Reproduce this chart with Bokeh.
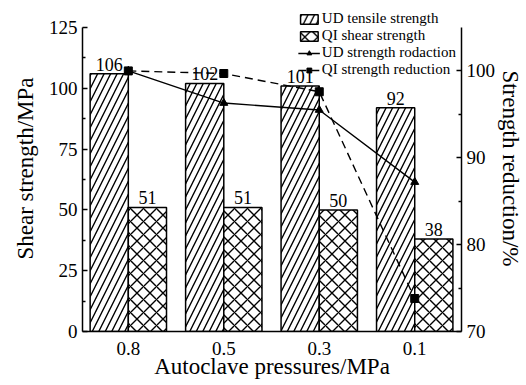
from bokeh.plotting import figure
from bokeh.models import (Range1d, LinearAxis, ColumnDataSource, LabelSet, Legend,
                          LegendItem, FixedTicker)
from bokeh.embed import file_html
from bokeh.resources import INLINE

pressures = ["0.8", "0.5", "0.3", "0.1"]
ud_tensile = [106, 102, 101, 92]
qi_shear = [51, 51, 50, 38]
ud_reduction = [100, 96.3, 95.5, 87.2]
qi_reduction = [100, 99.7, 97.6, 73.8]

FONT = "Liberation Serif"
idx = list(range(len(pressures)))
bw = 0.4

src = ColumnDataSource(dict(
    x=idx,
    x_ud=[i - bw / 2 for i in idx],
    x_qi=[i + bw / 2 for i in idx],
    ud=ud_tensile, qi=qi_shear,
    ud_lab=[str(v) for v in ud_tensile], qi_lab=[str(v) for v in qi_shear],
    udr=ud_reduction, qir=qi_reduction,
))

p = figure(width=526, height=385, output_backend="svg", toolbar_location=None,
           x_range=Range1d(-0.48, 3.49), y_range=Range1d(0, 134.05),
           min_border_left=82, min_border_right=63, min_border_top=5,
           min_border_bottom=54)
p.extra_y_ranges = {"r": Range1d(70, 107.53)}
p.grid.visible = False
p.outline_line_color = None
p.background_fill_color = "white"
p.border_fill_color = "white"

r_ud = p.vbar(x="x_ud", top="ud", width=bw, source=src, fill_color="white",
              line_color="black", line_width=1.5, hatch_pattern="/",
              hatch_color="black", hatch_weight=1.4, hatch_scale=13)
r_qi = p.vbar(x="x_qi", top="qi", width=bw, source=src, fill_color="white",
              line_color="black", line_width=1.5, hatch_pattern="x",
              hatch_color="black", hatch_weight=1.4, hatch_scale=13)

l_ud = p.line(x="x", y="udr", source=src, y_range_name="r", line_color="black",
              line_width=1.4)
m_ud = p.scatter(x="x", y="udr", source=src, y_range_name="r", marker="triangle",
                 size=8, fill_color="black", line_color="black")
l_qi = p.line(x="x", y="qir", source=src, y_range_name="r", line_color="black",
              line_width=1.4, line_dash="8 5")
m_qi = p.scatter(x="x", y="qir", source=src, y_range_name="r", marker="square",
                 size=8, fill_color="black", line_color="black")

for xcol, ycol, tcol in [("x_ud", "ud", "ud_lab"), ("x_qi", "qi", "qi_lab")]:
    p.add_layout(LabelSet(x=xcol, y=ycol, text=tcol, source=src, y_offset=3,
                          text_align="center", text_baseline="alphabetic",
                          text_font=FONT, text_font_size="18px",
                          text_color="black"))

# left axis
ya = p.yaxis[0]
ya.ticker = FixedTicker(ticks=[0, 25, 50, 75, 100, 125],
                        minor_ticks=[12.5, 37.5, 62.5, 87.5, 112.5])
ya.bounds = (0, 125)
ya.axis_label = "Shear strength/MPa"
ya.axis_label_standoff = 8

# right axis
ra = LinearAxis(y_range_name="r", axis_label="Strength reduction/%")
ra.ticker = FixedTicker(ticks=[70, 80, 90, 100], minor_ticks=[75, 85, 95])
ra.bounds = (70, 105)
ra.axis_label_standoff = 0
p.add_layout(ra, "right")

# bottom axis
xa = p.xaxis[0]
xa.ticker = FixedTicker(ticks=idx)
xa.major_label_overrides = {i: s for i, s in zip(idx, pressures)}
xa.axis_label = "Autoclave pressures/MPa"
xa.major_tick_in = 0
xa.major_tick_out = 0
xa.minor_tick_in = 0
xa.minor_tick_out = 0
xa.axis_label_standoff = -4
xa.major_label_standoff = 10

for ax in [ya, ra, xa]:
    ax.axis_line_color = "black"
    ax.axis_line_width = 1.5
    ax.major_tick_line_color = "black"
    ax.minor_tick_line_color = "black"
    ax.major_tick_line_width = 1.5
    ax.minor_tick_line_width = 1.5
    ax.major_label_text_font = FONT
    ax.major_label_text_font_size = "19px"
    ax.major_label_text_color = "black"
    ax.axis_label_text_font = FONT
    ax.axis_label_text_font_size = "23px"
    ax.axis_label_text_font_style = "normal"
    ax.axis_label_text_color = "black"
for ax in [ya, ra]:
    ax.major_tick_in = 5
    ax.major_tick_out = 0
    ax.minor_tick_in = 3
    ax.minor_tick_out = 0
    ax.major_label_standoff = 5

legend = Legend(items=[
    LegendItem(label="UD tensile strength", renderers=[r_ud]),
    LegendItem(label="QI shear strength", renderers=[r_qi]),
    LegendItem(label="UD strength rodaction", renderers=[l_ud, m_ud]),
    LegendItem(label="QI strength reduction", renderers=[l_qi, m_qi]),
], location="top_right")
legend.label_text_font = FONT
legend.label_text_font_size = "15px"
legend.label_text_color = "black"
legend.border_line_color = None
legend.background_fill_alpha = 0
legend.padding = 1
legend.margin = 5
legend.spacing = 0
legend.label_height = 14
legend.glyph_height = 12
legend.glyph_width = 22
legend.label_standoff = 2
p.add_layout(legend)

open("out.html", "w").write(file_html(p, INLINE))
